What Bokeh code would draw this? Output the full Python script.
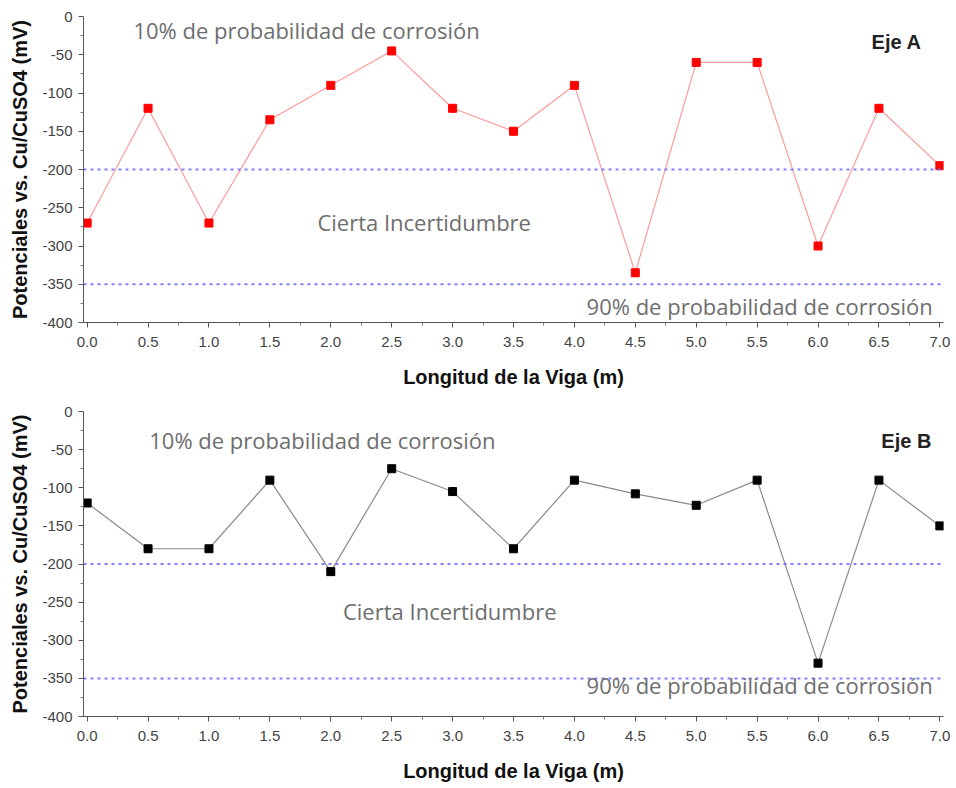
from bokeh.plotting import figure
from bokeh.layouts import column
from bokeh.models import Label, Span, FixedTicker, Range1d
from bokeh.embed import file_html
from bokeh.resources import INLINE

# ---- data ----
longitud = [0.0, 0.5, 1.0, 1.5, 2.0, 2.5, 3.0, 3.5, 4.0, 4.5, 5.0, 5.5, 6.0, 6.5, 7.0]
eje_a = [-270, -120, -270, -135, -90, -45, -120, -150, -90, -335, -60, -60, -300, -120, -195]
eje_b = [-120, -180, -180, -90, -210, -75, -105, -180, -90, -108, -123, -90, -330, -90, -150]
umbrales = [-200, -350]
x_ticks = [0.0, 0.5, 1.0, 1.5, 2.0, 2.5, 3.0, 3.5, 4.0, 4.5, 5.0, 5.5, 6.0, 6.5, 7.0]
y_ticks = [0, -50, -100, -150, -200, -250, -300, -350, -400]
txt_10 = "10% de probabilidad de corrosión"
txt_mid = "Cierta Incertidumbre"
txt_90 = "90% de probabilidad de corrosión"
x_title = "Longitud de la Viga (m)"
y_title = "Potenciales vs. Cu/CuSO4 (mV)"

ANN_FONT = "Open Sans"
AX_FONT = "Liberation Sans"


def make_fig(ys, line_color, marker_color, border_top, border_bottom, height, ann, tag):
    p = figure(width=954, height=height, output_backend="svg", toolbar_location=None,
               x_range=Range1d(-0.03, 7.03), y_range=Range1d(-400, 0),
               min_border_left=83, min_border_right=11,
               min_border_top=border_top, min_border_bottom=border_bottom)
    p.outline_line_color = None
    p.xgrid.visible = False
    p.ygrid.visible = False
    p.background_fill_color = "white"

    for ax, ticks in ((p.xaxis[0], x_ticks), (p.yaxis[0], y_ticks)):
        ax.ticker = FixedTicker(ticks=ticks,
                                minor_ticks=[t + (ticks[1] - ticks[0]) / 2 for t in ticks[:-1]])
        ax.axis_line_color = "#555555"
        ax.major_tick_line_color = "#555555"
        ax.minor_tick_line_color = "#777777"
        ax.major_tick_out = 5
        ax.major_tick_in = 0
        ax.minor_tick_out = 3
        ax.minor_tick_in = 0
        ax.major_label_text_font = AX_FONT
        ax.major_label_text_font_size = "15px"
        ax.major_label_text_color = "#444444"
        ax.axis_label_text_font = AX_FONT
        ax.axis_label_text_font_style = "bold"
        ax.axis_label_text_color = "#111111"
    p.xaxis.major_label_overrides = {t: f"{t:.1f}" for t in x_ticks}
    p.yaxis.major_label_overrides = {t: f"{t}" for t in y_ticks}
    p.xaxis.major_label_standoff = 9
    p.yaxis.major_label_standoff = 6
    p.xaxis.axis_label = x_title
    p.yaxis.axis_label = y_title
    p.xaxis.axis_label_standoff = 16
    p.yaxis.axis_label_standoff = 8
    p.xaxis.axis_label_text_font_size = "20px"
    p.yaxis.axis_label_text_font_size = "20px"

    for u in umbrales:
        p.add_layout(Span(location=u, dimension="width", line_color="#6a6aff",
                          line_width=2, line_dash="3 4", line_alpha=0.85))

    p.line(longitud, ys, line_color=line_color, line_width=1.2)
    p.scatter(longitud, ys, marker="square", size=8, fill_color=marker_color,
              line_color=marker_color)

    for (tx, x, y, align) in ann:
        p.add_layout(Label(x=x, y=y, text=tx, text_font=ANN_FONT, text_font_size="22px",
                           text_color="#6e6e6e", text_align=align, text_baseline="middle"))
    tx, x, y = tag
    p.add_layout(Label(x=x, y=y, text=tx, text_font=AX_FONT, text_font_style="bold",
                       text_font_size="20px", text_color="#222222", text_align="right",
                       text_baseline="middle"))
    return p


p1 = make_fig(eje_a, "#ff9a9a", "#ff0000", 16, 73, 395,
              [(txt_10, 0.38, -17, "left"), (txt_mid, 1.89, -269, "left"),
               (txt_90, 4.1, -378, "left")],
              ("Eje A", 6.85, -33))

p2 = make_fig(eje_b, "#8a8a8a", "#000000", 16, 68, 389,
              [(txt_10, 0.51, -38, "left"), (txt_mid, 2.1, -262, "left"),
               (txt_90, 4.1, -359, "left")],
              ("Eje B", 6.93, -39))

layout = column(p1, p2, spacing=0)
open("out.html", "w").write(file_html(layout, INLINE))
